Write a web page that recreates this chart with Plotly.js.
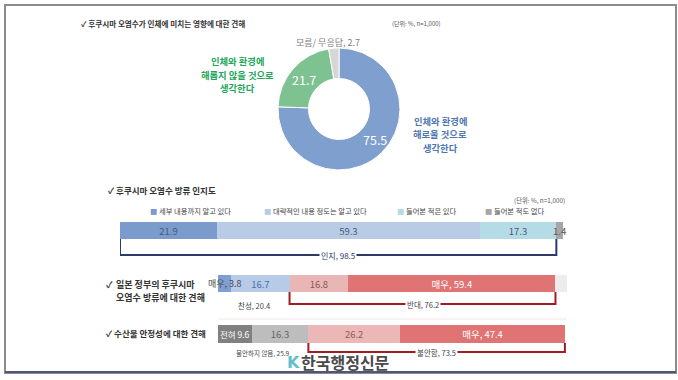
<!DOCTYPE html>
<html><head><meta charset="utf-8">
<script src="https://cdn.plot.ly/plotly-3.0.1.min.js"></script>
<style>html,body{margin:0;padding:0;background:#fff}#c{width:678px;height:380px}</style>
</head><body><div id="c"></div>
<script>
// ---- data ----
const pieLabels = ['인체와 환경에 해로울 것으로 생각한다', '인체와 환경에 해롭지 않을 것으로 생각한다', '모름/ 무응답'];
const pieValues = [75.5, 21.7, 2.7];
const pieLabelLinesHarm = ['인체와 환경에', '해로울 것으로', '생각한다'];
const pieLabelLinesSafe = ['인체와 환경에', '해롭지 않을 것으로', '생각한다'];

const awareLabels = ['세부 내용까지 알고 있다', '대략적인 내용 정도는 알고 있다', '들어본 적은 있다', '들어본 적도 없다'];
const awareValues = [21.9, 59.3, 17.3, 1.4];
const awareTotal = 98.5;

const govLabels = ['매우 찬성', '찬성', '반대', '매우 반대', '모름/무응답'];
const govValues = [3.8, 16.7, 16.8, 59.4, 3.3];
const govText = ['매우, 3.8', '16.7', '16.8', '매우, 59.4', ''];
const govAgree = 20.4, govOppose = 76.2;

const seaLabels = ['전혀 불안하지 않음', '불안하지 않음', '불안함', '매우 불안함'];
const seaValues = [9.6, 16.3, 26.2, 47.4];
const seaText = ['전혀 9.6', '16.3', '26.2', '매우, 47.4'];
const seaNotAnx = 25.9, seaAnx = 73.5;

// ---- style ----
const W = 678, H = 380;
const px = x => x / W;
const py = y => 1 - y / H;
const FONT = '"Noto Sans CJK KR", "Noto Sans", sans-serif';
const pieColors = ['#7f9fcf', '#7ec291', '#d6d6d6'];
const awareColors = ['#7b9bcc', '#b9cce6', '#b5dbe6', '#a6a6a6'];
const awareTextColors = ['#4a5878', '#4a5878', '#4a5878', '#555'];
const govColors = ['#7f9fd0', '#b7cae8', '#e9b6b6', '#e07373', '#ececec'];
const govTextColors = ['#4a4a4a', '#4a6ea8', '#8a5656', '#ffffff', '#888'];
const seaColors = ['#808080', '#bdbdbd', '#ebb7b7', '#e07373'];
const seaTextColors = ['#ffffff', '#666666', '#9a5a5a', '#ffffff'];
const sum = (a, n) => a.slice(0, n).reduce((s, v) => s + v, 0);

// pie geometry (pixels)
const PCX = 339, PCY = 109, PR = 61;
const pieTotal = sum(pieValues, 3);

const traces = [];
traces.push({
  type: 'pie', labels: pieLabels, values: pieValues,
  textinfo: 'none', sort: false, direction: 'clockwise', rotation: 0, hole: 0.5,
  marker: {colors: pieColors, line: {color: '#fff', width: 1}},
  domain: {x: [px(PCX - PR), px(PCX + PR)], y: [py(PCY + PR), py(PCY - PR)]},
  showlegend: false, hoverinfo: 'label+value'
});
function addBars(labels, values, texts, colors, tcolors, xa, ya, skip) {
  labels.forEach((l, i) => traces.push({
    type: 'bar', orientation: 'h', name: l, x: [values[i]], y: [0], width: 1,
    text: [skip.includes(i) ? '' : texts[i]], textposition: 'inside', insidetextanchor: 'middle', textangle: 0,
    constraintext: 'none', cliponaxis: false,
    textfont: {family: FONT, size: (xa === 'x3' && i === 0) ? 8.5 : 9.5, color: tcolors[i]},
    marker: {color: colors[i], line: {width: 0}},
    xaxis: xa, yaxis: ya, showlegend: false, hoverinfo: 'name+x'
  }));
}
addBars(awareLabels, awareValues, awareValues.map(String), awareColors, awareTextColors, 'x', 'y', [3]);
addBars(govLabels, govValues, govText, govColors, govTextColors, 'x2', 'y2', [0]);
addBars(seaLabels, seaValues, seaText, seaColors, seaTextColors, 'x3', 'y3', []);

const hid = (dom) => ({domain: dom, range: [0, 100], visible: false, fixedrange: true});
const hidY = (dom) => ({domain: dom, range: [-0.5, 0.5], visible: false, fixedrange: true});

const ann = [];
function A(text, x, y, o) {
  ann.push(Object.assign({text, x: px(x), y: py(y), xref: 'paper', yref: 'paper', showarrow: false,
    xanchor: 'left', yanchor: 'middle', font: {family: FONT, size: 8, color: '#333'}}, o || {}));
}
// pie slice values (placed at slice mid-angle, mid-ring)
[0, 1].forEach(i => {
  const mid = (sum(pieValues, i) + pieValues[i] / 2) / pieTotal * 2 * Math.PI;
  const r = PR * 0.77;
  A(String(pieValues[i]), PCX + r * Math.sin(mid) + (i === 0 ? 3 : 0), PCY - r * Math.cos(mid) + (i === 0 ? -3 : 1),
    {xanchor: 'center', font: {family: FONT, size: 12.5, color: '#fff'}});
});
// section 1
A('<b>✓ 후쿠시마 오염수가 인체에 미치는 영향에 대한 견해</b>', 79, 24, {font: {family: FONT, size: 7.6, color: '#333'}});
A('(단위: %, n=1,000)', 390, 24, {font: {family: FONT, size: 6, color: '#555'}});
pieLabelLinesHarm.forEach((t, k) => A('<b>' + t + '</b>', 440, 121 + k * 13.5,
  {xanchor: 'center', font: {family: FONT, size: 9.3, color: '#4f76b2'}}));
pieLabelLinesSafe.forEach((t, k) => A('<b>' + t + '</b>', 237, 61 + k * 13.5,
  {xanchor: 'center', font: {family: FONT, size: 9.3, color: '#22a65a'}}));
A('모름/ 무응답, ' + pieValues[2], 328, 42, {xanchor: 'center', font: {family: FONT, size: 9, color: '#808080'}});
// section 2
A('<b>✓ 후쿠시마 오염수 방류 인지도</b>', 106, 190, {font: {family: FONT, size: 8.5, color: '#333'}});
A('(단위: %, n=1,000)', 512, 200, {font: {family: FONT, size: 6.3, color: '#555'}});
const legX = [148, 262, 395, 483];
awareLabels.forEach((l, i) => A('<span style="color:' + awareColors[i] + '">■</span> ' + l, legX[i], 211,
  {font: {family: FONT, size: 7.3, color: '#444'}}));
ann.push({text: String(awareValues[3]), x: sum(awareValues, 3) + awareValues[3] / 2, y: 0, xref: 'x', yref: 'y',
  showarrow: false, xanchor: 'center', yanchor: 'middle', font: {family: FONT, size: 9.5, color: '#555'}});
ann.push({text: '인지, ' + awareTotal, x: awareTotal / 2, y: py(255), xref: 'x', yref: 'paper', showarrow: false,
  xanchor: 'center', yanchor: 'middle', bgcolor: '#fff', borderpad: 1, font: {family: FONT, size: 8, color: '#2b3a67'}});
// section 3
A('<b>✓</b>', 104, 284, {font: {family: FONT, size: 9, color: '#333'}});
A('<b>일본 정부의 후쿠시마</b>', 114, 284, {font: {family: FONT, size: 9, color: '#333'}});
A('<b>오염수 방류에 대한 견해</b>', 114, 297, {font: {family: FONT, size: 9, color: '#333'}});
ann.push({text: govText[0], x: govValues[0] / 2, y: 0, xref: 'x2', yref: 'y2',
  showarrow: false, xanchor: 'center', yanchor: 'middle', font: {family: FONT, size: 9, color: '#4a4a4a'}});
const g0 = sum(govValues, 2);
ann.push({text: '찬성, ' + govAgree, x: g0 / 2, y: py(305), xref: 'x2', yref: 'paper', showarrow: false,
  xanchor: 'center', yanchor: 'middle', font: {family: FONT, size: 7.5, color: '#444'}});
ann.push({text: '반대, ' + govOppose, x: g0 + govOppose / 2, y: py(304), xref: 'x2', yref: 'paper', showarrow: false,
  xanchor: 'center', yanchor: 'middle', bgcolor: '#fff', borderpad: 1, font: {family: FONT, size: 7.5, color: '#444'}});
// section 4
A('<b>✓ 수산물 안정성에 대한 견해</b>', 104, 333, {font: {family: FONT, size: 8.5, color: '#333'}});
const s0 = sum(seaValues, 2);
ann.push({text: '불안하지 않음, ' + seaNotAnx, x: s0 / 2, y: py(353), xref: 'x3', yref: 'paper', showarrow: false,
  xanchor: 'center', yanchor: 'middle', font: {family: FONT, size: 6.5, color: '#444'}});
ann.push({text: '불안함, ' + seaAnx, x: s0 + seaAnx / 2, y: py(352), xref: 'x3', yref: 'paper', showarrow: false,
  xanchor: 'center', yanchor: 'middle', bgcolor: '#fff', borderpad: 1, font: {family: FONT, size: 7.5, color: '#444'}});
// watermark
A('<b>K</b>', 285, 362, {font: {family: 'DejaVu Sans', size: 16, color: '#5fc2c9'}});
A('<b>한국행정신문</b>', 299, 362, {font: {family: FONT, size: 16, color: '#4a4a4a'}});

const shapes = [
  {type: 'rect', xref: 'paper', yref: 'paper', x0: px(5), x1: px(676), y0: py(373), y1: py(5),
   line: {color: '#8c8c8c', width: 2}, layer: 'above'},
  {type: 'line', xref: 'paper', yref: 'paper', x0: px(5), x1: px(676), y0: py(372), y1: py(372),
   line: {color: '#50557a', width: 2}, layer: 'above'},
  {type: 'line', xref: 'paper', yref: 'paper', x0: px(218), x1: px(567), y0: py(319), y1: py(319),
   line: {color: '#f4e6e6', width: 1}, layer: 'below'},
  {type: 'path', xref: 'x', yref: 'paper',
   path: `M 0,${py(239)} L 0,${py(255)} L ${awareTotal},${py(255)} L ${awareTotal},${py(239)}`,
   line: {color: '#2b3a67', width: 2}, layer: 'below'},
  {type: 'path', xref: 'x2', yref: 'paper',
   path: `M ${g0},${py(292)} L ${g0},${py(304)} L ${g0 + govOppose},${py(304)} L ${g0 + govOppose},${py(292)}`,
   line: {color: '#a11d24', width: 2}, layer: 'below'},
  {type: 'path', xref: 'x3', yref: 'paper',
   path: `M ${s0},${py(343)} L ${s0},${py(352)} L ${s0 + seaAnx},${py(352)} L ${s0 + seaAnx},${py(343)}`,
   line: {color: '#a11d24', width: 2}, layer: 'below'}
];

const layout = {
  width: W, height: H, margin: {l: 0, r: 0, t: 0, b: 0},
  paper_bgcolor: '#fff', plot_bgcolor: 'rgba(0,0,0,0)',
  barmode: 'stack', showlegend: false, font: {family: FONT},
  xaxis: hid([px(120), px(563)]), yaxis: hidY([py(239), py(222)]),
  xaxis2: hid([px(218), px(567)]), yaxis2: hidY([py(292), py(275)]),
  xaxis3: hid([px(218), px(567)]), yaxis3: hidY([py(343), py(325)]),
  annotations: ann, shapes: shapes
};
Plotly.newPlot('c', traces, layout, {displayModeBar: false, staticPlot: true});
</script></body></html>
